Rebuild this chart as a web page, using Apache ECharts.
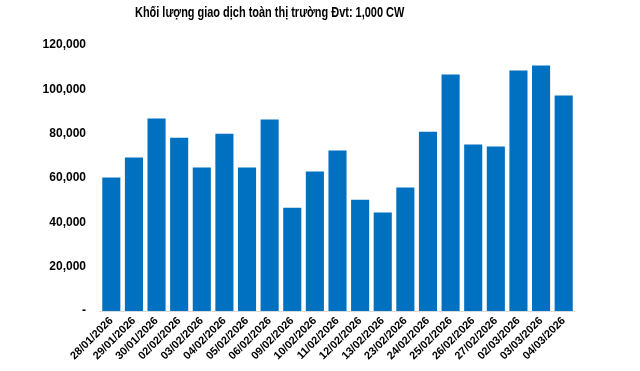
<!DOCTYPE html>
<html><head><meta charset="utf-8">
<script src="https://cdn.jsdelivr.net/npm/echarts@6/dist/echarts.min.js"></script>
<style>html,body{margin:0;padding:0;background:#fff}#c{width:640px;height:371px}</style>
</head><body><div id="c"></div>
<script>
const categories = ["28/01/2026","29/01/2026","30/01/2026","02/02/2026","03/02/2026","04/02/2026","05/02/2026","06/02/2026","09/02/2026","10/02/2026","11/02/2026","12/02/2026","13/02/2026","23/02/2026","24/02/2026","25/02/2026","26/02/2026","27/02/2026","02/03/2026","03/03/2026","04/03/2026"];
const volumes = [60200, 69200, 86800, 78200, 64700, 80000, 64700, 86400, 46600, 62900, 72400, 50200, 44400, 55700, 80900, 106700, 75100, 74200, 108500, 110700, 97200];
const titleText = "Khối lượng giao dịch toàn thị trường Đvt: 1,000 CW";

const chart = echarts.init(document.getElementById('c'), null, {renderer:'canvas'});
chart.setOption({
  animation:false,
  graphic:[{type:'text',x:135,y:5,scaleX:0.73,style:{text:titleText,fontFamily:'Liberation Sans',fontWeight:'bold',fontSize:15,fill:'#000'}}],
  grid:{left:100,right:65,top:45,bottom:60},
  xAxis:{type:'category',data:categories,
    axisLine:{lineStyle:{color:'#d9d9d9',width:1}},axisTick:{show:false},
    axisLabel:{rotate:45,interval:0,margin:8,fontFamily:'Liberation Sans',fontWeight:'bold',fontSize:11,color:'#000'}},
  yAxis:{type:'value',min:0,max:120000,interval:20000,
    splitLine:{show:false},axisLine:{show:false},axisTick:{show:false},
    axisLabel:{margin:14,fontFamily:'Liberation Sans',fontWeight:'bold',fontSize:12,color:'#000',
      formatter:v=>v===0?'-':v.toLocaleString('en-US')}},
  series:[{type:'bar',data:volumes,barCategoryGap:'20%',itemStyle:{color:'#0070C0'}}]
});
</script></body></html>
